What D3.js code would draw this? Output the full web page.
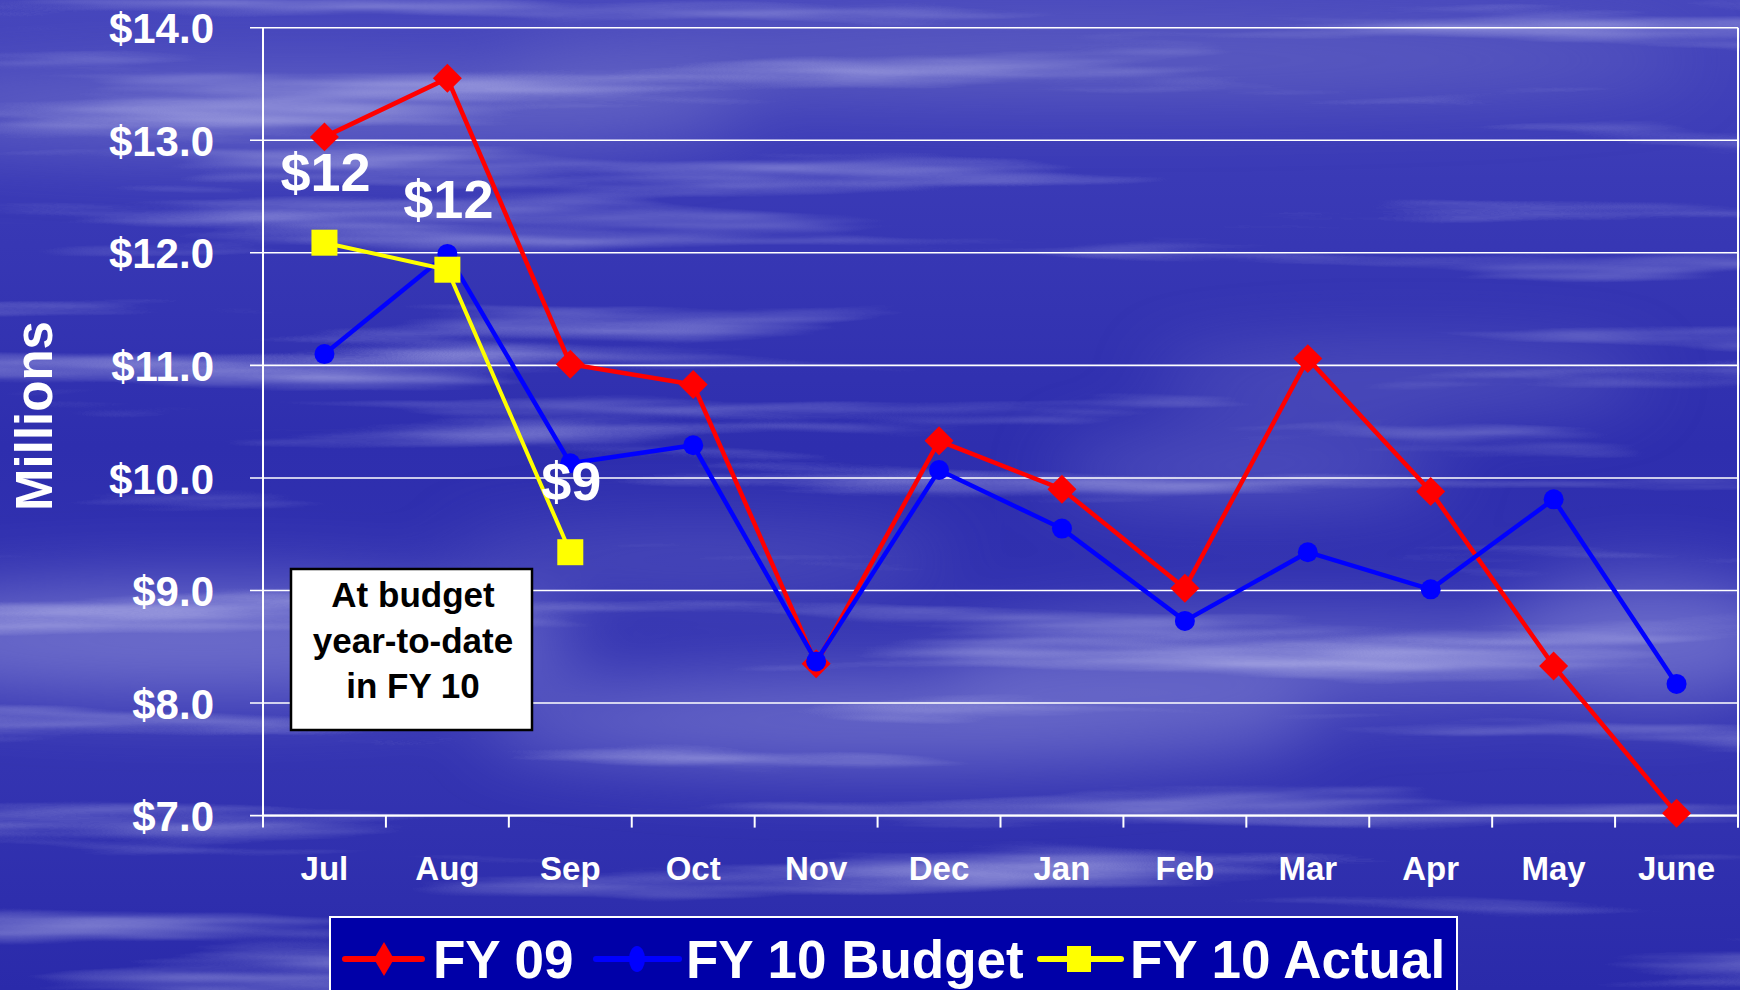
<!DOCTYPE html>
<html><head><meta charset="utf-8">
<script src="https://cdn.jsdelivr.net/npm/d3@7/dist/d3.min.js"></script>
<style>html,body{margin:0;padding:0;background:#2d2db0;}svg{display:block;}</style>
</head><body>
<script>
const months = ["Jul","Aug","Sep","Oct","Nov","Dec","Jan","Feb","Mar","Apr","May","June"];
const fy09 = [13.03,13.55,11.01,10.83,8.35,10.33,9.90,9.02,11.06,9.88,8.33,7.02];
const fy10Budget = [11.10,11.99,10.13,10.29,8.37,10.07,9.55,8.73,9.34,9.01,9.81,8.17];
const fy10Actual = [12.09,11.85,9.34];
const actualLabels = ["$12","$12","$9"];
const yTicks = [7,8,9,10,11,12,13,14];
const seriesNames = ["FY 09","FY 10 Budget","FY 10 Actual"];
const noteLines = ["At budget","year-to-date","in FY 10"];

const W=1740,H=990;
const L=263,R=1738,T=27.7,B=815.6;
const FONT="Liberation Sans, Arial, sans-serif";
const svg=d3.select("body").append("svg").attr("width",W).attr("height",H);
const defs=svg.append("defs");
const g1=defs.append("linearGradient").attr("id","bg").attr("x1",0).attr("y1",0).attr("x2",0).attr("y2",1);
g1.append("stop").attr("offset",0).attr("stop-color","#4646bc");
g1.append("stop").attr("offset",0.18).attr("stop-color","#3a3ab6");
g1.append("stop").attr("offset",0.45).attr("stop-color","#2e2eae");
g1.append("stop").attr("offset",0.75).attr("stop-color","#3535b2");
g1.append("stop").attr("offset",1).attr("stop-color","#2a2aaa");
const f=defs.append("filter").attr("id","clouds").attr("x",0).attr("y",0).attr("width","100%").attr("height","100%");
f.append("feTurbulence").attr("type","fractalNoise").attr("baseFrequency","0.0012 0.02").attr("numOctaves",4).attr("seed",7).attr("result","n");
f.append("feColorMatrix").attr("in","n").attr("type","matrix")
 .attr("values","0 0 0 0 0.8  0 0 0 0 0.8  0 0 0 0 1  3.2 0 0 0 -1.75");
const f2=defs.append("filter").attr("id","blur").attr("x","-50%").attr("y","-50%").attr("width","200%").attr("height","200%");
f2.append("feGaussianBlur").attr("stdDeviation",35);

svg.append("rect").attr("width",W).attr("height",H).attr("fill","url(#bg)");
// broad light areas
const glow=svg.append("g").attr("filter","url(#blur)").attr("opacity",0.55);
glow.append("ellipse").attr("cx",200).attr("cy",640).attr("rx",380).attr("ry",55).attr("fill","#a0a0e2");
glow.append("ellipse").attr("cx",900).attr("cy",720).attr("rx",420).attr("ry",45).attr("fill","#9494dc");
glow.append("ellipse").attr("cx",1300).attr("cy",660).attr("rx",350).attr("ry",40).attr("fill","#8a8ad8");
glow.append("ellipse").attr("cx",1650).attr("cy",640).attr("rx",150).attr("ry",60).attr("fill","#9a9ae0");
glow.append("ellipse").attr("cx",1250).attr("cy",470).attr("rx",200).attr("ry",28).attr("fill","#7c7cd0");
glow.append("ellipse").attr("cx",1400).attr("cy",380).attr("rx",250).attr("ry",25).attr("fill","#7a7acc");
glow.append("ellipse").attr("cx",300).attr("cy",110).attr("rx",450).attr("ry",40).attr("fill","#8484d0");
glow.append("ellipse").attr("cx",1100).attr("cy",60).attr("rx",600).attr("ry",35).attr("fill","#7878c8");
glow.append("ellipse").attr("cx",700).attr("cy",560).attr("rx",250).attr("ry",25).attr("fill","#7070c8");
svg.append("rect").attr("width",W).attr("height",H).attr("filter","url(#clouds)").attr("opacity",0.5);

const x=d3.scaleBand().domain(months).range([L,R]);
const y=d3.scaleLinear().domain([7,14]).range([B,T]);
const cx=d=>x(d)+x.bandwidth()/2;

// gridlines
svg.append("g").selectAll("line").data(yTicks).join("line")
 .attr("x1",L-13).attr("x2",R).attr("y1",d=>y(d)).attr("y2",d=>y(d))
 .attr("stroke","#fff").attr("stroke-width",1.6);
// axes
const yAxis=d3.axisLeft(y).tickValues(yTicks).tickSize(0).tickPadding(0).tickFormat(d=>"$"+d3.format(".1f")(d));
const ya=svg.append("g").attr("transform",`translate(${L},0)`).call(yAxis);
ya.select(".domain").remove();
ya.selectAll("text").attr("x",-49).attr("dy","0.36em").attr("fill","#fff")
 .attr("font-family",FONT).attr("font-weight","bold").attr("font-size",42);
svg.append("line").attr("x1",L).attr("x2",L).attr("y1",T).attr("y2",B).attr("stroke","#fff").attr("stroke-width",2);
svg.append("line").attr("x1",R).attr("x2",R).attr("y1",T).attr("y2",B+12).attr("stroke","#fff").attr("stroke-width",2);
svg.append("line").attr("x1",L).attr("x2",R).attr("y1",B).attr("y2",B).attr("stroke","#fff").attr("stroke-width",2);
// x ticks at boundaries
const bounds=months.map(m=>x(m)).concat([R]);
svg.append("g").selectAll("line").data(bounds).join("line")
 .attr("x1",d=>d).attr("x2",d=>d).attr("y1",B).attr("y2",B+12).attr("stroke","#fff").attr("stroke-width",2);
svg.append("g").selectAll("text").data(months).join("text")
 .attr("x",d=>cx(d)).attr("y",880).attr("text-anchor","middle").attr("fill","#fff")
 .attr("font-family",FONT).attr("font-weight","bold").attr("font-size",33).text(d=>d);
// y title
svg.append("text").attr("transform","translate(52,416) rotate(-90)").attr("text-anchor","middle")
 .attr("fill","#fff").attr("font-family",FONT).attr("font-weight","bold").attr("font-size",51).text("Millions");

const line=d3.line().x((d,i)=>cx(months[i])).y(d=>y(d));
// FY09
svg.append("path").datum(fy09).attr("d",line).attr("fill","none").attr("stroke","#ff0000").attr("stroke-width",4.5);
svg.append("g").selectAll("path").data(fy09).join("path")
 .attr("d",d3.symbol(d3.symbolSquare,420)).attr("fill","#ff0000")
 .attr("transform",(d,i)=>`translate(${cx(months[i])},${y(d)}) rotate(45)`);
// Budget
svg.append("path").datum(fy10Budget).attr("d",line).attr("fill","none").attr("stroke","#0000ff").attr("stroke-width",4.5);
svg.append("g").selectAll("circle").data(fy10Budget).join("circle")
 .attr("cx",(d,i)=>cx(months[i])).attr("cy",d=>y(d)).attr("r",10).attr("fill","#0000ff");
// Actual
svg.append("path").datum(fy10Actual).attr("d",line).attr("fill","none").attr("stroke","#ffff00").attr("stroke-width",4);
svg.append("g").selectAll("rect").data(fy10Actual).join("rect")
 .attr("x",(d,i)=>cx(months[i])-13).attr("y",d=>y(d)-13).attr("width",26).attr("height",26).attr("fill","#ffff00");
svg.append("g").selectAll("text").data(fy10Actual).join("text")
 .attr("x",(d,i)=>cx(months[i])+1).attr("y",d=>y(d)-52).attr("text-anchor","middle").attr("fill","#fff")
 .attr("font-family",FONT).attr("font-weight","bold").attr("font-size",54)
 .text((d,i)=>actualLabels[i]);

// note box
svg.append("rect").attr("x",291).attr("y",569).attr("width",241).attr("height",161).attr("fill","#fff").attr("stroke","#000").attr("stroke-width",2.5);
svg.append("g").selectAll("text").data(noteLines).join("text")
 .attr("x",413).attr("y",(d,i)=>607+i*45.5).attr("text-anchor","middle").attr("fill","#000")
 .attr("font-family",FONT).attr("font-weight","bold").attr("font-size",35).text(d=>d);

// legend
const lg=svg.append("g");
lg.append("rect").attr("x",330).attr("y",917).attr("width",1127).attr("height",80).attr("fill","#0000a8").attr("stroke","#fff").attr("stroke-width",2);
const items=[{lx1:345,lx2:422,mx:384,tx:433,c:"#ff0000"},{lx1:596,lx2:679,mx:637,tx:686,c:"#0000ff"},{lx1:1040,lx2:1121,mx:1079,tx:1130,c:"#ffff00"}];
const ly=959;
items.forEach((it,i)=>{
 lg.append("line").attr("x1",it.lx1).attr("x2",it.lx2).attr("y1",ly).attr("y2",ly).attr("stroke",it.c).attr("stroke-width",6).attr("stroke-linecap","round");
 if(i===0) lg.append("path").attr("d","M0,-17L10,0L0,17L-10,0Z").attr("fill",it.c).attr("transform",`translate(${it.mx},${ly})`);
 if(i===1) lg.append("ellipse").attr("cx",it.mx).attr("cy",ly).attr("rx",8).attr("ry",13).attr("fill",it.c);
 if(i===2) lg.append("rect").attr("x",it.mx-12).attr("y",ly-13).attr("width",24).attr("height",26).attr("fill",it.c);
 lg.append("text").attr("x",it.tx).attr("y",978).attr("fill","#fff").attr("font-family",FONT)
  .attr("font-weight","bold").attr("font-size",53).text(seriesNames[i]);
});
</script>
</body></html>
